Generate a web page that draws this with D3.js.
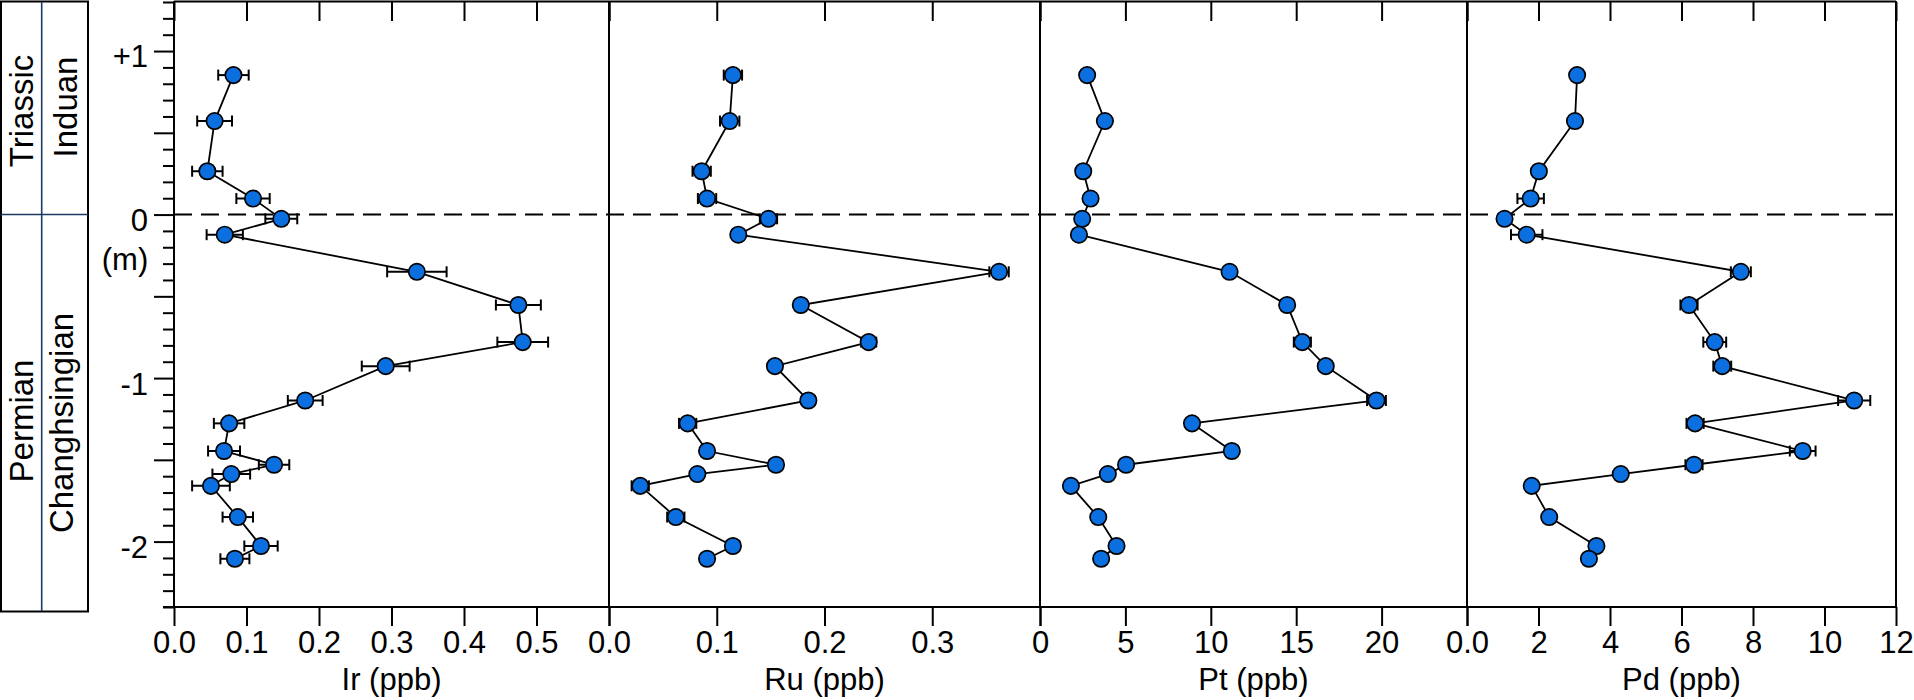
<!DOCTYPE html>
<html>
<head>
<meta charset="utf-8">
<script src="https://cdn.jsdelivr.net/npm/d3@7/dist/d3.min.js"></script>
<style>
  body { margin: 0; background: #fff; }
  text { font-family: "Liberation Sans", Arial, Helvetica, sans-serif; fill: #000; }
</style>
</head>
<body>
<script>
// sample heights relative to the boundary, in metres
const depths = [0.853, 0.572, 0.265, 0.098, -0.026, -0.123, -0.35, -0.553, -0.78, -0.927,
  -1.137, -1.277, -1.446, -1.53, -1.587, -1.659, -1.85, -2.027, -2.105];

const irPpb = [0.082, 0.056, 0.046, 0.109, 0.148, 0.070, 0.335, 0.475, 0.481, 0.292,
  0.181, 0.076, 0.069, 0.138, 0.079, 0.051, 0.088, 0.120, 0.084];
const irErr = [0.021, 0.024, 0.021, 0.023, 0.022, 0.025, 0.041, 0.031, 0.035, 0.033,
  0.024, 0.021, 0.022, 0.021, 0.026, 0.026, 0.021, 0.023, 0.020];

const ruPpb = [0.115, 0.112, 0.086, 0.091, 0.148, 0.120, 0.362, 0.178, 0.241, 0.154,
  0.185, 0.073, 0.091, 0.155, 0.082, 0.029, 0.062, 0.115, 0.091];
const ruErr = [0.0085, 0.009, 0.0085, 0.0085, 0.008, 0.005, 0.009, 0.005, 0.007, 0.005,
  0.006, 0.008, 0.005, 0.006, 0.005, 0.008, 0.008, 0.006, 0.005];

const ptPpb = [2.76, 3.80, 2.53, 2.96, 2.47, 2.28, 11.10, 14.47, 15.36, 16.73,
  19.70, 8.90, 11.23, 5.04, 3.97, 1.81, 3.41, 4.48, 3.58];
const ptErr = [0.3, 0.3, 0.3, 0.3, 0.3, 0.3, 0.35, 0.35, 0.5, 0.35,
  0.55, 0.35, 0.35, 0.3, 0.3, 0.3, 0.3, 0.3, 0.3];

const pdPpb = [3.08, 3.02, 2.01, 1.78, 1.05, 1.67, 7.66, 6.21, 6.93, 7.14,
  10.83, 6.38, 9.39, 6.35, 4.30, 1.81, 2.30, 3.62, 3.41];
const pdErr = [0.1, 0.1, 0.1, 0.37, 0.1, 0.44, 0.28, 0.24, 0.32, 0.25,
  0.45, 0.24, 0.36, 0.24, 0.15, 0.15, 0.15, 0.15, 0.15];

const irTicks = [0, 0.1, 0.2, 0.3, 0.4, 0.5, 0.6];
const irLabels = ["0.0", "0.1", "0.2", "0.3", "0.4", "0.5", ""];
const ruTicks = [0, 0.1, 0.2, 0.3, 0.4];
const ruLabels = ["0.0", "0.1", "0.2", "0.3", ""];
const ptTicks = [0, 5, 10, 15, 20, 25];
const ptLabels = ["0", "5", "10", "15", "20", ""];
const pdTicks = [0, 2, 4, 6, 8, 10, 12];
const pdLabels = ["0.0", "2", "4", "6", "8", "10", "12"];

const depthTicks = d3.range(-24, 14).map(d => d / 10);
const depthLabels = { "1": "+1", "0": "0", "-1": "-1", "-2": "-2" };

const width = 1914, height = 700;
const bounds = [174, 609, 1040, 1467, 1896];
const markerFill = "#0b6fdf";

const panels = [
  { title: "Ir (ppb)", values: irPpb, errors: irErr, domain: [0, 0.6], ticks: irTicks, labels: irLabels },
  { title: "Ru (ppb)", values: ruPpb, errors: ruErr, domain: [0, 0.4], ticks: ruTicks, labels: ruLabels },
  { title: "Pt (ppb)", values: ptPpb, errors: ptErr, domain: [0, 25], ticks: ptTicks, labels: ptLabels },
  { title: "Pd (ppb)", values: pdPpb, errors: pdErr, domain: [0, 12], ticks: pdTicks, labels: pdLabels }
];

const svg = d3.select("body").append("svg")
  .attr("width", width)
  .attr("height", height);

const y = d3.scaleLinear().domain([-2.4, 1.3]).range([607, 2]);

// stratigraphic column
const strat = svg.append("g");
strat.append("rect")
  .attr("x", 1).attr("y", 1.5).attr("width", 87).attr("height", 610)
  .attr("fill", "none").attr("stroke", "#000").attr("stroke-width", 2);
strat.append("line")
  .attr("x1", 41.7).attr("x2", 41.7).attr("y1", 2).attr("y2", 611)
  .attr("stroke", "#1b3a66").attr("stroke-width", 1.6);
strat.append("line")
  .attr("x1", 1).attr("x2", 88).attr("y1", y(0)).attr("y2", y(0))
  .attr("stroke", "#1b3a66").attr("stroke-width", 1.6);

const stratLabels = [
  { text: "Triassic", x: 33, y: 111 },
  { text: "Induan", x: 77, y: 107 },
  { text: "Permian", x: 33, y: 421 },
  { text: "Changhsingian", x: 73, y: 423 }
];
strat.selectAll("text.strat").data(stratLabels).enter()
  .append("text")
  .attr("class", "strat")
  .attr("transform", d => "translate(" + d.x + "," + d.y + ") rotate(-90)")
  .attr("text-anchor", "middle")
  .style("font-size", "33px")
  .text(d => d.text);

// depth axis
const yAxis = svg.append("g")
  .attr("transform", "translate(" + bounds[0] + ",0)")
  .call(d3.axisLeft(y).tickValues(depthTicks).tickSizeOuter(0)
    .tickFormat(d => depthLabels[String(Math.round(d * 10) / 10)] || ""));
yAxis.attr("font-size", null).attr("font-family", null);
yAxis.select(".domain").remove();
yAxis.selectAll(".tick line")
  .attr("x2", d => Math.round(d * 10) % 5 === 0 ? -20 : -11)
  .attr("stroke-width", 2);
yAxis.selectAll(".tick text")
  .attr("x", -26)
  .attr("y", 6)
  .style("font-size", "31px");

svg.append("text")
  .attr("x", 125).attr("y", 270)
  .attr("text-anchor", "middle")
  .style("font-size", "31px")
  .text("(m)");

// frame
const frame = svg.append("g").attr("stroke", "#000").attr("stroke-width", 2);
frame.append("line").attr("x1", bounds[0]).attr("x2", bounds[4]).attr("y1", 1.5).attr("y2", 1.5);
frame.append("line").attr("x1", bounds[0] - 11).attr("x2", bounds[4]).attr("y1", y(-2.4)).attr("y2", y(-2.4));
frame.selectAll("line.sep").data(bounds).enter()
  .append("line")
  .attr("class", "sep")
  .attr("x1", d => d).attr("x2", d => d)
  .attr("y1", 1).attr("y2", y(-2.4));

// boundary line
svg.append("line")
  .attr("x1", bounds[0]).attr("x2", bounds[4])
  .attr("y1", y(0)).attr("y2", y(0))
  .attr("stroke", "#000").attr("stroke-width", 2)
  .attr("stroke-dasharray", "18,9");

panels.forEach((p, i) => {
  const x = d3.scaleLinear().domain(p.domain).range([bounds[i], bounds[i + 1]]);

  const bottom = svg.append("g")
    .attr("transform", "translate(0," + y(-2.4) + ")")
    .call(d3.axisBottom(x).tickValues(p.ticks).tickSizeInner(19).tickSizeOuter(0).tickPadding(5)
      .tickFormat((d, k) => p.labels[k]));
  bottom.attr("font-size", null).attr("font-family", null);
  bottom.select(".domain").remove();
  bottom.selectAll(".tick line").attr("stroke-width", 2);
  bottom.selectAll(".tick text").style("font-size", "31px");

  const top = svg.append("g")
    .attr("transform", "translate(0,2)")
    .call(d3.axisTop(x).tickValues(p.ticks).tickSizeInner(-19).tickSizeOuter(0).tickFormat(""));
  top.select(".domain").remove();
  top.selectAll(".tick line").attr("stroke-width", 2);

  svg.append("text")
    .attr("x", (bounds[i] + bounds[i + 1]) / 2)
    .attr("y", 690)
    .attr("text-anchor", "middle")
    .style("font-size", "31px")
    .text(p.title);

  const pts = p.values.map((v, k) => ({ v: v, e: p.errors[k], d: depths[k] }));

  // error bars
  const eb = svg.append("g").attr("stroke", "#000").attr("stroke-width", 2);
  pts.forEach(q => {
    const x0 = x(q.v - q.e), x1 = x(q.v + q.e), yy = y(q.d);
    eb.append("line").attr("x1", x0).attr("x2", x1).attr("y1", yy).attr("y2", yy);
    eb.append("line").attr("x1", x0).attr("x2", x0).attr("y1", yy - 5.5).attr("y2", yy + 5.5);
    eb.append("line").attr("x1", x1).attr("x2", x1).attr("y1", yy - 5.5).attr("y2", yy + 5.5);
  });

  const line = d3.line().x(q => x(q.v)).y(q => y(q.d));
  svg.append("path")
    .datum(pts)
    .attr("d", line)
    .attr("fill", "none")
    .attr("stroke", "#000")
    .attr("stroke-width", 1.8);

  svg.append("g").selectAll("circle").data(pts).enter()
    .append("circle")
    .attr("cx", q => x(q.v))
    .attr("cy", q => y(q.d))
    .attr("r", 8.2)
    .attr("fill", markerFill)
    .attr("stroke", "#000")
    .attr("stroke-width", 1.7);
});
</script>
</body>
</html>
